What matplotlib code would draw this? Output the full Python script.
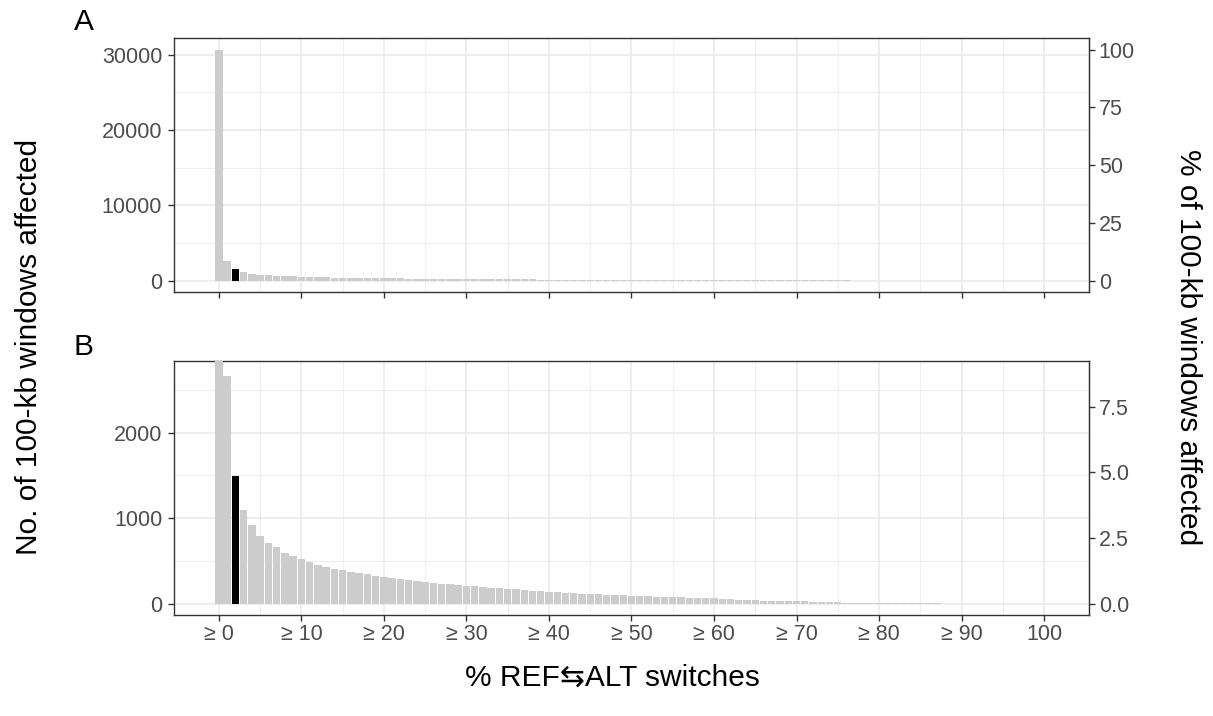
import numpy as np
import matplotlib.pyplot as plt
from matplotlib.ticker import FixedLocator, FuncFormatter

plt.rcParams['font.family'] = ['Liberation Sans', 'DejaVu Sans']

# Data: number of 100-kb windows with >= x % REF/ALT switches
switch_pct = np.arange(0, 101)
n_windows = [30700, 2660, 1490, 1100, 915, 795, 703, 656, 594, 559,
             516, 483, 450, 430, 407, 387, 371, 352, 340, 322,
             309, 297, 283, 272, 263, 254, 240, 231, 223, 215,
             207, 200, 194, 187, 181, 175, 170, 160, 150, 141,
             134, 130, 126, 121, 116, 112, 108, 104, 100, 97,
             93, 89, 85, 81, 77, 74, 71, 68, 65, 62,
             59, 55, 50, 44, 38, 36, 34, 32, 30, 28,
             27, 25, 22, 19, 16, 13, 11, 9, 7, 5,
             4, 3, 3, 2, 2, 2, 1, 1, 0, 0,
             0, 0, 0, 0, 0, 0, 0, 0, 0, 0, 0]
highlight = 2  # the bar shown in black

x_ticks = [0, 10, 20, 30, 40, 50, 60, 70, 80, 90, 100]
x_ticklabels = ['≥ 0', '≥ 10', '≥ 20', '≥ 30', '≥ 40', '≥ 50',
                '≥ 60', '≥ 70', '≥ 80', '≥ 90', '100']

total = n_windows[0]
colors = ['black' if p == highlight else '#CCCCCC' for p in switch_pct]

fig = plt.figure(figsize=(12.13, 7.16), dpi=100)
ax_a = fig.add_axes([0.1434, 0.592, 0.7544, 0.355])
ax_b = fig.add_axes([0.1434, 0.141, 0.7544, 0.355])

grid_col = '#EBEBEB'
border_col = '#333333'
tick_col = '#4D4D4D'
tick_size = 15.5
title_size = 21.5


def style_panel(ax, yticks, yminor, ylim, right_ticks, right_fmt):
    ax.bar(switch_pct, n_windows, width=0.9, color=colors, zorder=3)
    ax.set_xlim(-5.45, 105.45)
    ax.set_ylim(*ylim)
    ax.set_xticks(x_ticks)
    ax.xaxis.set_minor_locator(FixedLocator(np.arange(5, 100, 10)))
    ax.set_yticks(yticks)
    ax.yaxis.set_minor_locator(FixedLocator(yminor))
    ax.grid(which='major', color=grid_col, lw=1.2, zorder=0)
    ax.grid(which='minor', color=grid_col, lw=0.6, zorder=0)
    ax.tick_params(which='minor', length=0)
    ax.tick_params(which='major', length=4, width=1, color=border_col,
                   labelsize=tick_size, labelcolor=tick_col, pad=2.5)
    ax.tick_params(axis='y', pad=4.5)
    for s in ax.spines.values():
        s.set_color(border_col)
        s.set_linewidth(1)

    # second axis: percent of all windows
    sec = ax.secondary_yaxis('right', functions=(lambda c: c / total * 100,
                                                 lambda p: p * total / 100))
    sec.set_yticks(right_ticks)
    sec.yaxis.set_major_formatter(FuncFormatter(right_fmt))
    sec.tick_params(length=4, width=1, color=border_col, pad=3,
                    labelsize=tick_size, labelcolor=tick_col)
    sec.spines['right'].set_color(border_col)
    return sec


style_panel(ax_a, [0, 10000, 20000, 30000], [5000, 15000, 25000],
            (-1535, 32235), [0, 25, 50, 75, 100], lambda v, p: f'{v:.0f}')
ax_a.set_xticklabels([])

style_panel(ax_b, [0, 1000, 2000], [500, 1500, 2500],
            (-135, 2840), [0, 2.5, 5.0, 7.5], lambda v, p: f'{v:.1f}')
ax_b.set_xticklabels(x_ticklabels)

# Labels
fig.text(0.061, 0.969, 'A', fontsize=title_size, ha='left', va='center')
fig.text(0.061, 0.515, 'B', fontsize=title_size, ha='left', va='center')
fig.text(0.024, 0.515, 'No. of 100-kb windows affected', fontsize=title_size,
         rotation=90, ha='center', va='center')
fig.text(0.979, 0.515, '% of 100-kb windows affected', fontsize=title_size,
         rotation=-90, ha='center', va='center')
fig.text(0.505, 0.053, '% REF⇆ALT switches', fontsize=title_size,
         ha='center', va='center')

plt.savefig('out.png', dpi=100)
